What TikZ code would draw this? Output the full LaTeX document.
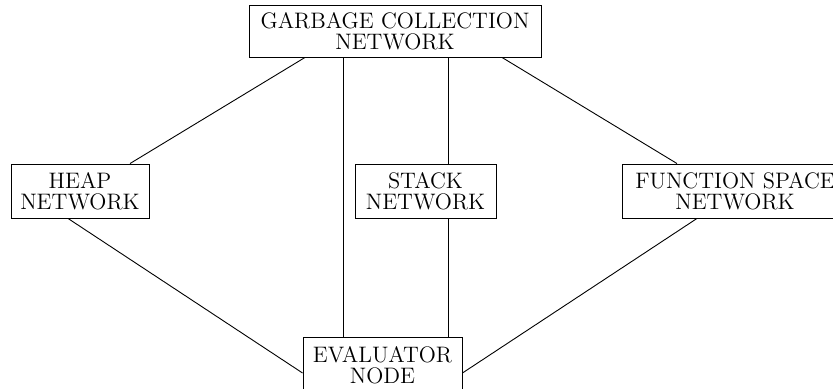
\documentclass[tikz,border=0pt]{standalone}
\begin{document}
\begin{tikzpicture}[x=0.5pt,y=-0.5pt,
  box/.style={draw, line width=0.45pt, rectangle, align=center, inner sep=0pt,
    font=\fontsize{11.2}{10.6}\selectfont},
  link/.style={line width=0.45pt}]
\useasboundingbox (0,0) rectangle (833,389);
\node[box, minimum width=146pt, minimum height=26pt] (gc) at (395,31) {GARBAGE COLLECTION\\NETWORK};
\node[box, minimum width=69pt, minimum height=27pt] (heap) at (80,191) {HEAP\\NETWORK};
\node[box, minimum width=70.5pt, minimum height=27pt] (stack) at (425.5,191) {STACK\\NETWORK};
\node[box, minimum width=113pt, minimum height=27pt] (fs) at (735,191) {FUNCTION SPACE\\NETWORK};
\node[box, minimum width=79.5pt, minimum height=28pt] (eval) at (382.5,365) {EVALUATOR\\NODE};
\draw[link] (gc.south -| 305,0) -- (heap.north -| 130,0);
\draw[link] (gc.south -| 343,0) -- (eval.north -| 343,0);
\draw[link] (gc.south -| 448,0) -- (stack.north -| 448,0);
\draw[link] (stack.south -| 448,0) -- (eval.north -| 448,0);
\draw[link] (gc.south -| 502,0) -- (fs.north -| 677,0);
\draw[link] (heap.south -| 68,0) -- (eval.west |- 0,373);
\draw[link] (fs.south -| 697,0) -- (eval.east |- 0,373);
\end{tikzpicture}
\end{document}
